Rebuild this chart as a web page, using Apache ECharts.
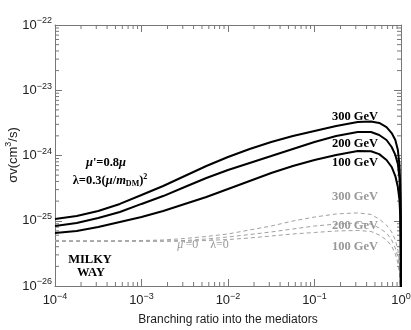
<!DOCTYPE html>
<html>
<head>
<meta charset="utf-8">
<script src="https://cdn.jsdelivr.net/npm/echarts@6/dist/echarts.min.js"></script>
<style>html,body{margin:0;padding:0;background:#fff}#main{width:411px;height:330px}</style>
</head>
<body>
<div id="main"></div>
<script>
// 横轴：分支比
var brX = [1e-4, 1.78e-4, 3.16e-4, 5.62e-4, 1e-3, 1.78e-3, 3.16e-3, 5.62e-3, 1e-2, 1.78e-2, 3.16e-2, 5.62e-2, 0.1, 0.178, 0.316,
           0.45, 0.56, 0.68, 0.78, 0.86, 0.92, 0.96, 0.98, 0.99, 0.995, 0.9999];
// 实线  mu'=0.8mu  (cm^3/s)
var sv300 = [1.06e-25, 1.18e-25, 1.41e-25, 1.81e-25, 2.48e-25, 3.41e-25, 4.85e-25, 6.9e-25, 9.5e-25, 1.26e-24, 1.61e-24, 1.99e-24, 2.37e-24, 2.83e-24, 3.26e-24,
             3.32e-24, 3.15e-24, 2.73e-24, 2.21e-24, 1.73e-24, 1.21e-24, 7.15e-25, 3.53e-25, 1.46e-25, 5.07e-26, 1e-27];
var sv200 = [8.3e-26, 9.24e-26, 1.10e-25, 1.36e-25, 1.81e-25, 2.39e-25, 3.29e-25, 4.52e-25, 6.0e-25, 7.68e-25, 9.82e-25, 1.26e-24, 1.61e-24, 1.99e-24, 2.29e-24,
             2.29e-24, 2.06e-24, 1.73e-24, 1.35e-24, 1.02e-24, 7.41e-25, 4.52e-25, 2.48e-25, 1.10e-25, 4.25e-26, 1e-27];
var sv100 = [6.49e-26, 6.97e-26, 8.02e-26, 9.57e-26, 1.14e-25, 1.41e-25, 1.81e-25, 2.31e-25, 3.07e-25, 4.07e-25, 5.4e-25, 6.9e-25, 8.53e-25, 1.02e-24, 1.17e-24,
             1.16e-24, 1.05e-24, 8.53e-25, 6.67e-25, 4.85e-25, 3.29e-25, 2.08e-25, 1.22e-25, 6.05e-26, 2.5e-26, 1e-27];
// 虚线  mu'=0 lambda=0
var sv300d = [4.9e-26, 4.9e-26, 4.9e-26, 4.9e-26, 4.98e-26, 5.07e-26, 5.35e-26, 5.74e-26, 6.27e-26, 7.22e-26, 8.3e-26, 9.91e-26, 1.14e-25, 1.27e-25, 1.32e-25,
              1.25e-25, 1.06e-25, 8.6e-26, 6.73e-26, 5.07e-26, 3.56e-26, 2.33e-26, 1.47e-26, 8.7e-27, 4e-27, 1e-27];
var sv200d = [4.9e-26, 4.9e-26, 4.9e-26, 4.9e-26, 4.9e-26, 4.9e-26, 4.98e-26, 5.25e-26, 5.64e-26, 6.15e-26, 6.73e-26, 7.48e-26, 8.3e-26, 8.9e-26, 9.24e-26,
              8.9e-26, 7.74e-26, 6.49e-26, 5.07e-26, 3.82e-26, 2.78e-26, 1.89e-26, 1.24e-26, 7.3e-27, 4e-27, 1e-27];
var sv100d = [4.85e-26, 4.85e-26, 4.85e-26, 4.85e-26, 4.85e-26, 4.85e-26, 4.85e-26, 4.98e-26, 5.16e-26, 5.44e-26, 5.84e-26, 6.27e-26, 6.61e-26, 6.97e-26, 7.1e-26,
              6.85e-26, 6.05e-26, 5.07e-26, 4.1e-26, 3.09e-26, 2.25e-26, 1.58e-26, 1.07e-26, 6.5e-27, 4e-27, 1e-27];

// 纵轴以 1e-26 为单位绘制，避免极小数的精度问题
var yUnitExp = -26;
var yUnit = Math.pow(10, yUnitExp);
var xMin = 1e-4, xMax = 1, yMin = 1, yMax = 1e4;

function pairs(ys) {
    return brX.map(function (x, i) { return [x, ys[i] / yUnit]; });
}

// 次刻度 2..9
var xMinor = [], yMinor = [];
for (var e = -4; e < 0; e++) for (var k = 2; k <= 9; k++) xMinor.push([k * Math.pow(10, e), yMin]);
for (var e2 = 0; e2 < 4; e2++) for (var k2 = 2; k2 <= 9; k2++) yMinor.push([xMin, k2 * Math.pow(10, e2)]);

var frameColor = '#777';
var sansFont = '"Liberation Sans", Arial, sans-serif';
var serifFont = '"Liberation Serif", "Times New Roman", serif';

function expText(p) {
    return '{b|10}{sup|' + (p < 0 ? '\u2212' + (-p) : p) + '}';
}
function xLabel(v) { return expText(Math.round(Math.log10(v))); }
function yLabel(v) { return expText(Math.round(Math.log10(v)) + yUnitExp); }
var powRich = {
    b: {fontSize: 13, fontFamily: sansFont, color: '#222'},
    sup: {fontSize: 9, fontFamily: sansFont, color: '#222', padding: [0, 0, 8, 0]}
};

function minorX(params, api) {
    var p = api.coord([api.value(0), api.value(1)]);
    var cs = params.coordSys;
    var st = {stroke: frameColor, lineWidth: 1};
    return {type: 'group', children: [
        {type: 'line', shape: {x1: p[0], y1: cs.y + cs.height, x2: p[0], y2: cs.y + cs.height - 4}, style: st},
        {type: 'line', shape: {x1: p[0], y1: cs.y, x2: p[0], y2: cs.y + 4}, style: st}
    ]};
}
function minorY(params, api) {
    var p = api.coord([api.value(0), api.value(1)]);
    var cs = params.coordSys;
    var st = {stroke: frameColor, lineWidth: 1};
    return {type: 'group', children: [
        {type: 'line', shape: {x1: cs.x, y1: p[1], x2: cs.x + 4, y2: p[1]}, style: st},
        {type: 'line', shape: {x1: cs.x + cs.width, y1: p[1], x2: cs.x + cs.width - 4, y2: p[1]}, style: st}
    ]};
}

var chart = echarts.init(document.getElementById('main'), null, {renderer: 'canvas'});

var solidStyle = {color: '#000', width: 2};
var dashStyle = {color: '#a0a0a0', width: 1, type: [4, 3]};

function lineSeries(ys, style) {
    return {
        type: 'line',
        data: pairs(ys),
        showSymbol: false,
        smooth: false,
        lineStyle: style,
        itemStyle: {color: style.color},
        clip: true,
        silent: true,
        z: style.width > 1 ? 4 : 3
    };
}

var option = {
    backgroundColor: '#fff',
    animation: false,
    grid: {left: 55, right: 10, top: 25, bottom: 44, show: false, containLabel: false, outerBoundsMode: 'none'},
    xAxis: [{
        type: 'log', logBase: 10, min: xMin, max: xMax,
        name: 'Branching ratio into the mediators',
        nameLocation: 'middle', nameGap: 28,
        nameTextStyle: {fontFamily: sansFont, fontSize: 12, color: '#222'},
        axisLine: {show: true, onZero: false, lineStyle: {color: frameColor, width: 1}},
        axisTick: {show: true, inside: true, length: 7, lineStyle: {color: frameColor}},
        axisLabel: {margin: 6, formatter: xLabel, rich: powRich, showMinLabel: true, showMaxLabel: true},
        splitLine: {show: false}
    }, {
        type: 'log', logBase: 10, min: xMin, max: xMax, position: 'top',
        axisLine: {show: true, onZero: false, lineStyle: {color: frameColor, width: 1}},
        axisTick: {show: true, inside: true, length: 7, lineStyle: {color: frameColor}},
        axisLabel: {show: false},
        splitLine: {show: false}
    }],
    yAxis: [{
        type: 'log', logBase: 10, min: yMin, max: yMax,
        axisLine: {show: true, onZero: false, lineStyle: {color: frameColor, width: 1}},
        axisTick: {show: true, inside: true, length: 7, lineStyle: {color: frameColor}},
        axisLabel: {margin: 3, formatter: yLabel, rich: powRich, showMinLabel: true, showMaxLabel: true},
        splitLine: {show: false}
    }, {
        type: 'log', logBase: 10, min: yMin, max: yMax, position: 'right',
        axisLine: {show: true, onZero: false, lineStyle: {color: frameColor, width: 1}},
        axisTick: {show: true, inside: true, length: 7, lineStyle: {color: frameColor}},
        axisLabel: {show: false},
        splitLine: {show: false}
    }],
    series: [
        lineSeries(sv300d, dashStyle),
        lineSeries(sv200d, dashStyle),
        lineSeries(sv100d, dashStyle),
        lineSeries(sv300, solidStyle),
        lineSeries(sv200, solidStyle),
        lineSeries(sv100, solidStyle),
        {type: 'custom', renderItem: minorX, data: xMinor, silent: true, clip: false, z: 2},
        {type: 'custom', renderItem: minorY, data: yMinor, silent: true, clip: false, z: 2}
    ],
    graphic: [
        {type: 'text', x: 13, y: 155, rotation: Math.PI / 2, style: {
            text: '{t|\u03c3v(cm}{s|3}{t|/s)}',
            rich: {
                t: {font: '13px ' + sansFont, fill: '#222'},
                s: {font: '9px ' + sansFont, fill: '#222', padding: [0, 0, 8, 0]}
            },
            align: 'center', verticalAlign: 'middle'}, z: 10},
        {type: 'text', x: 355, y: 117, style: {text: '300 GeV', font: 'bold 12.5px ' + serifFont, fill: '#000', align: 'center', verticalAlign: 'middle'}, z: 10},
        {type: 'text', x: 355, y: 144, style: {text: '200 GeV', font: 'bold 12.5px ' + serifFont, fill: '#000', align: 'center', verticalAlign: 'middle'}, z: 10},
        {type: 'text', x: 355, y: 163, style: {text: '100 GeV', font: 'bold 12.5px ' + serifFont, fill: '#000', align: 'center', verticalAlign: 'middle'}, z: 10},
        {type: 'text', x: 355, y: 197, style: {text: '300 GeV', font: 'bold 12.5px ' + serifFont, fill: '#999', align: 'center', verticalAlign: 'middle'}, z: 10},
        {type: 'text', x: 355, y: 226, style: {text: '200 GeV', font: 'bold 12.5px ' + serifFont, fill: '#999', align: 'center', verticalAlign: 'middle'}, z: 10},
        {type: 'text', x: 355, y: 247, style: {text: '100 GeV', font: 'bold 12.5px ' + serifFont, fill: '#999', align: 'center', verticalAlign: 'middle'}, z: 10},
        {type: 'text', x: 106, y: 163, style: {
            text: '{bi|\u03bc}{b|\'=0.8}{bi|\u03bc}',
            rich: {
                b: {font: 'bold 12.5px ' + serifFont, fill: '#000'},
                bi: {font: 'italic bold 12.5px ' + serifFont, fill: '#000'}
            },
            align: 'center', verticalAlign: 'middle'}, z: 10},
        {type: 'text', x: 110, y: 181, style: {
            text: '{b|\u03bb=0.3(}{bi|\u03bc}{b|/}{bi|m}{sub|DM}{b|)}{sup|2}',
            rich: {
                b: {font: 'bold 12.5px ' + serifFont, fill: '#000'},
                bi: {font: 'italic bold 12.5px ' + serifFont, fill: '#000'},
                sub: {font: 'bold 8px ' + serifFont, fill: '#000', padding: [6, 0, 0, 0]},
                sup: {font: 'bold 8px ' + serifFont, fill: '#000', padding: [0, 0, 8, 0]}
            },
            align: 'center', verticalAlign: 'middle'}, z: 10},
        {type: 'text', x: 90, y: 260, style: {text: 'MILKY', font: 'bold 12.5px ' + serifFont, fill: '#000', align: 'center', verticalAlign: 'middle'}, z: 10},
        {type: 'text', x: 91, y: 273, style: {text: 'WAY', font: 'bold 12.5px ' + serifFont, fill: '#000', align: 'center', verticalAlign: 'middle'}, z: 10},
        {type: 'text', x: 203, y: 245, style: {
            text: '{i|\u03bc}{r|\'=0    \u03bb=0}',
            rich: {
                r: {font: '12px ' + serifFont, fill: '#999'},
                i: {font: 'italic 12px ' + serifFont, fill: '#999'}
            },
            align: 'center', verticalAlign: 'middle'}, z: 10}
    ]
};
chart.setOption(option);
</script>
</body>
</html>
